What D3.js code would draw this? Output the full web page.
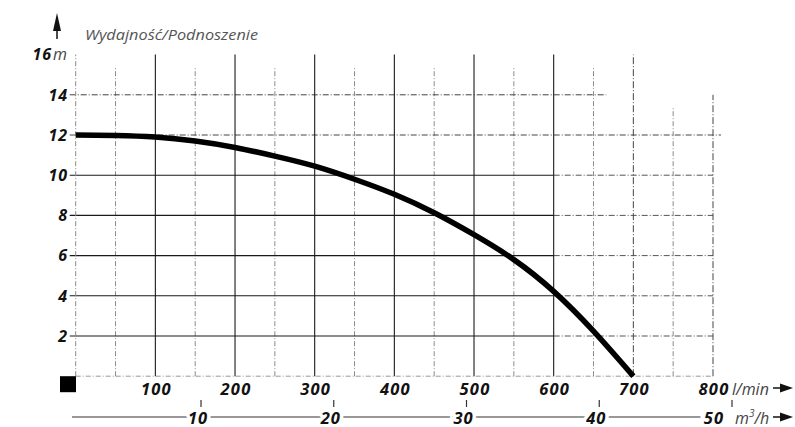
<!DOCTYPE html>
<html><head><meta charset="utf-8">
<script src="https://cdn.jsdelivr.net/npm/d3@7"></script>
<style>
html,body{margin:0;padding:0;background:#fff;}
svg{display:block;}
</style></head>
<body>
<svg id="c" width="795" height="427"></svg>
<script>
// ---- data ----
const flowTicks = [100,200,300,400,500,600,700,800];          // l/min
const flowMinor = [50,150,250,350,450,550,650,750];
const headTicks = [2,4,6,8,10,12,14,16];                       // m
const m3Ticks = [10,20,30,40,50];                              // m3/h
const curveFlow = [0,50,100,150,200,250,300,350,400,450,500,550,600,650,700];
const curveHead = [12,11.98,11.9,11.7,11.38,10.95,10.45,9.8,9.05,8.13,7.04,5.8,4.22,2.24,0];
const titleText = "Wydajność/Podnoszenie";

// ---- scales ----
const x = d3.scaleLinear().domain([0,800]).range([75.7,713]);
const y = d3.scaleLinear().domain([0,16]).range([376.2,54.6]);
const xm = d3.scaleLinear().domain([10,50]).range([201,732]);

const svg = d3.select("#c");
const g = svg.append("g");
const FF = "'Open Sans', sans-serif";
const solid = "#1a1a1a", dash = "#8a8a8a";

// minor (50) verticals, dashed grey
const minorTop = {750:13.4, 800:14.0};
g.selectAll(".vmin").data(flowMinor).enter().append("line")
  .attr("x1",d=>x(d)).attr("x2",d=>x(d))
  .attr("y1",y(0)).attr("y2",d=>y(minorTop[d]||15.35))
  .attr("stroke",dash).attr("stroke-width",1).attr("stroke-dasharray","5,2,1,2");

// horizontal lines
headTicks.filter(d=>d<=10).forEach(d=>{
  g.append("line").attr("x1",x(0)-6).attr("x2",x(600)).attr("y1",y(d)).attr("y2",y(d))
    .attr("stroke",solid).attr("stroke-width",1.1);
  g.append("line").attr("x1",x(600)).attr("x2",x(800)).attr("y1",y(d)).attr("y2",y(d))
    .attr("stroke","#555").attr("stroke-width",1).attr("stroke-dasharray","6,2,1,2");
});
[[12,810],[14,666]].forEach(([d,end])=>{
  g.append("line").attr("x1",x(0)-6).attr("x2",x(end)).attr("y1",y(d)).attr("y2",y(d))
    .attr("stroke","#444").attr("stroke-width",1).attr("stroke-dasharray","6,2,1,2");
});

// major verticals
g.selectAll(".vmaj").data(flowTicks).enter().append("line")
  .attr("x1",d=>x(d)).attr("x2",d=>x(d))
  .attr("y1",y(0)).attr("y2",d=>d===800?y(14):y(16))
  .attr("stroke",d=>d>=700?"#444":solid).attr("stroke-width",d=>d>=700?1:1.1)
  .attr("stroke-dasharray",d=>d>=700?"7,2,1,2":null);

// axes (dashed)
g.append("line").attr("x1",x(0)).attr("x2",x(0)).attr("y1",y(0)).attr("y2",y(16))
  .attr("stroke","#888").attr("stroke-dasharray","5,2,1,2");
g.append("line").attr("x1",x(0)).attr("x2",x(800)).attr("y1",y(0)).attr("y2",y(0))
  .attr("stroke","#999").attr("stroke-dasharray","5,2,1,2");

// curve
const line = d3.line().x((d,i)=>x(curveFlow[i])).y(d=>y(d)).curve(d3.curveNatural);
g.append("path").attr("d",line(curveHead)).attr("fill","none")
  .attr("stroke","#000").attr("stroke-width",5.5);

// y labels
g.selectAll(".yl").data(headTicks).enter().append("text")
  .attr("x",d=>d===16?52:68).attr("y",d=>y(d)).attr("dy","0.36em")
  .attr("text-anchor","end").attr("font-size",16).attr("letter-spacing",1)
  .attr("font-family",FF).attr("font-weight",700).attr("font-style","italic")
  .attr("fill","#111").text(d=>d);
g.append("text").attr("x",53).attr("y",y(16)).attr("dy","0.36em")
  .attr("font-family",FF).attr("font-style","italic")
  .attr("font-size",16).attr("fill","#444").text("m");

// x labels
g.selectAll(".xl").data(flowTicks).enter().append("text")
  .attr("x",d=>x(d)+1).attr("y",394.5)
  .attr("text-anchor","middle").attr("font-size",16.5).attr("letter-spacing",1.2)
  .attr("font-family",FF).attr("font-weight",700).attr("font-style","italic")
  .attr("fill","#111").text(d=>d);
g.append("text").attr("x",732).attr("y",394.5)
  .attr("font-family",FF).attr("font-style","italic")
  .attr("font-size",16).attr("fill","#444").text("l/min");

// black square
g.append("rect").attr("x",60).attr("y",y(0)).attr("width",16).attr("height",16).attr("fill","#000");

// second axis m3/h
g.append("line").attr("x1",72).attr("x2",702).attr("y1",417).attr("y2",417)
  .attr("stroke","#333").attr("stroke-width",1.2);
g.selectAll(".mt").data(m3Ticks).enter().append("line")
  .attr("x1",d=>xm(d)).attr("x2",d=>xm(d)).attr("y1",400).attr("y2",407)
  .attr("stroke","#333").attr("stroke-width",1.2);
g.selectAll(".ml").data(m3Ticks).enter().append("text")
  .attr("x",d=>d===50?724:xm(d)-3).attr("y",423.5)
  .attr("text-anchor",d=>d===50?"end":"middle").attr("font-size",16.5).attr("letter-spacing",1)
  .attr("font-family",FF).attr("font-weight",700).attr("font-style","italic")
  .attr("fill","#111").attr("stroke","#fff").attr("stroke-width",7).attr("paint-order","stroke")
  .text(d=>d);
const mt = g.append("text").attr("x",735).attr("y",423.5)
  .attr("font-family",FF).attr("font-style","italic")
  .attr("font-size",16).attr("fill","#444");
mt.append("tspan").text("m");
mt.append("tspan").attr("font-size",10).attr("dy",-7).text("3");
mt.append("tspan").attr("dy",7).text("/h");

// arrows
function rightArrow(yy){
  g.append("line").attr("x1",773).attr("x2",782).attr("y1",yy).attr("y2",yy).attr("stroke","#111").attr("stroke-width",1.5);
  g.append("path").attr("d",`M780,${yy-4.5}L793,${yy}L780,${yy+4.5}Z`).attr("fill","#111");
}
rightArrow(388);
rightArrow(417);
g.append("line").attr("x1",57).attr("x2",57).attr("y1",28).attr("y2",39).attr("stroke","#111").attr("stroke-width",1.5);
g.append("path").attr("d","M57,13L61,31L53,31Z").attr("fill","#111");

// title
g.append("text").attr("x",85).attr("y",40)
  .attr("font-family",FF).attr("font-style","italic")
  .attr("font-size",15).attr("fill","#555")
  .attr("textLength",173).attr("lengthAdjust","spacingAndGlyphs").text(titleText);
</script>
</body></html>
